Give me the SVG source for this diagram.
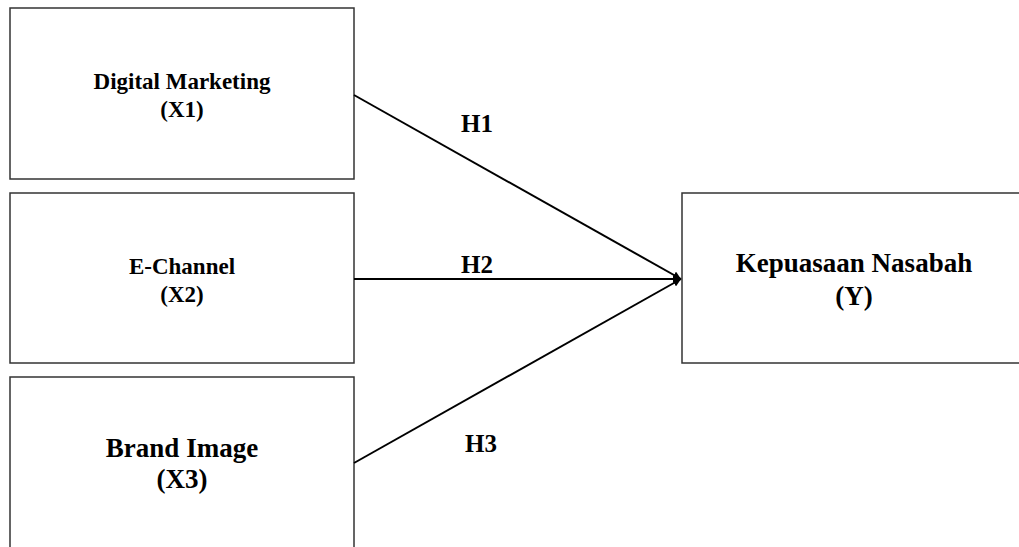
<svg xmlns="http://www.w3.org/2000/svg" width="1019" height="547" viewBox="0 0 1019 547">
<style>
.box{fill:#fff;stroke:#333;stroke-width:1.5}
.t{font-family:"Liberation Serif","Times New Roman",serif;font-weight:bold;fill:#000;text-anchor:middle}
.s{font-size:23px}
.l{font-size:27px}
.h{font-size:25px}
.c{stroke:#000;stroke-width:2;fill:none}
</style>
<defs>
<marker id="arr" viewBox="0 0 10 10" refX="10" refY="5" markerWidth="4" markerHeight="4" orient="auto"><path d="M0,0 L10,5 L0,10 z" fill="#000"/></marker>
</defs>
<rect width="1019" height="547" fill="#fff"/>
<g id="x1"><rect class="box" x="10" y="8" width="344" height="171"/>
<text class="t s" x="182" y="89">Digital Marketing</text><text class="t s" x="182" y="117">(X1)</text></g>
<g id="x2"><rect class="box" x="10" y="193" width="344" height="170"/>
<text class="t s" x="182" y="274">E-Channel</text><text class="t s" x="182" y="302">(X2)</text></g>
<g id="x3"><rect class="box" x="10" y="377" width="344" height="180"/>
<text class="t l" x="182" y="457">Brand Image</text><text class="t l" x="182" y="488">(X3)</text></g>
<g id="y"><rect class="box" x="682" y="193" width="350" height="170"/>
<text class="t l" x="854" y="272">Kepuasaan Nasabah</text><text class="t l" x="854" y="305">(Y)</text></g>
<g id="connectors">
<line class="c" x1="354" y1="95" x2="681" y2="279" marker-end="url(#arr)"/>
<line class="c" x1="354" y1="279" x2="681" y2="279" marker-end="url(#arr)"/>
<line class="c" x1="354" y1="463" x2="681" y2="279" marker-end="url(#arr)"/>
<text class="t h" x="477" y="132">H1</text>
<text class="t h" x="477" y="273">H2</text>
<text class="t h" x="481" y="452">H3</text>
</g>
</svg>
